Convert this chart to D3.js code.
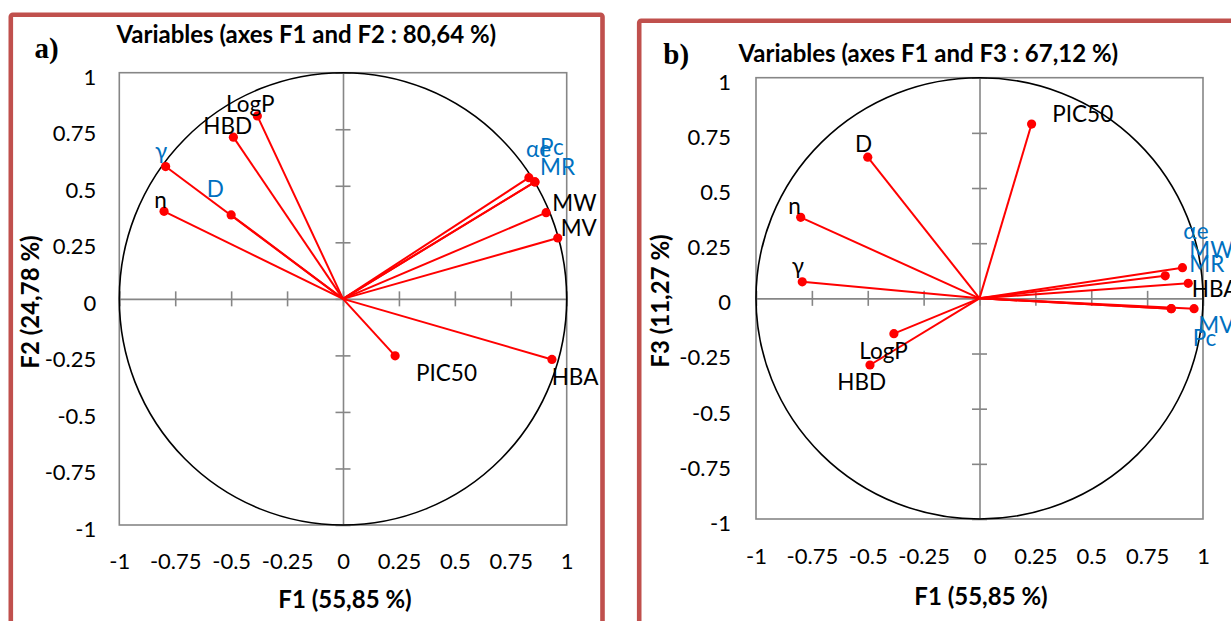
<!DOCTYPE html>
<html><head><meta charset="utf-8">
<script src="https://cdn.jsdelivr.net/npm/d3@7"></script>
<style>
body{margin:0;background:#fff;}
svg{display:block;font-family:Lato,'Open Sans',sans-serif;}
</style></head><body>
<svg id="chart" width="1231" height="621"></svg>
<script>
// ---- data ----
const variables = ["LogP","HBD","γ","n","D","αe","Pc","MR","MW","MV","PIC50","HBA"];
const f1 = [-0.383,-0.490,-0.793,-0.800,-0.500,0.831,0.858,0.858,0.908,0.960,0.233,0.934];
const f2 = [0.809,0.715,0.585,0.387,0.371,0.536,0.517,0.517,0.381,0.269,-0.252,-0.268];
const f3 = [-0.160,-0.302,0.075,0.367,0.640,0.102,-0.047,-0.047,0.139,-0.047,0.790,0.068];
const tickValues = [-1,-0.75,-0.5,-0.25,0,0.25,0.5,0.75,1];
const panelTitles = ["Variables (axes F1 and F2 : 80,64 %)","Variables (axes F1 and F3 : 67,12 %)"];
const panelLetters = ["a)","b)"];
const xTitles = ["F1 (55,85 %)","F1 (55,85 %)"];
const yTitles = ["F2 (24,78 %)","F3 (11,27 %)"];
const blueLabelsA = ["γ","D","αe","Pc","MR"];
const blueLabelsB = ["αe","MW","MR","MV","Pc"];

// ---- layout / style (not data) ----
const RED_FRAME = "#c0504d", GREY = "#868686", BLUE = "#0070c0";
const FS_TICK = 22, FS_LABEL = 22.5, FS_TITLE = 24;
const panels = [
  { ys: f2, blue: blueLabelsA,
    frame:[10.8,14.7,591.7,700], xr:[119.3,566.7], yr:[525,72.7],
    letter:[34.5,58.3], title:[306.3,43.3], xTitle:[345,608], yTitle:[39,302], xPad:28.4, yPad:23,
    off:{"LogP":[-31.3,-4.2],"HBD":[-30.1,-3.1],"γ":[-10.6,-7.2],"n":[-9.8,-3],"D":[-24.5,-18.2],
         "αe":[-2.9,-20.9],"Pc":[5.1,-26.9],"MR":[5.1,-6.9],"MW":[6.2,-2],"MV":[2.9,-2.3],
         "PIC50":[20.9,24.9],"HBA":[-0.3,25.5]} },
  { ys: f3, blue: blueLabelsB,
    frame:[639.2,20.8,700,700], xr:[756,1203], yr:[519,77.7],
    letter:[663.3,64], title:[928.3,61.7], xTitle:[981,605], yTitle:[669,301], xPad:29.4, yPad:25,
    off:{"LogP":[-34.6,25.7],"HBD":[-32.7,25],"γ":[-10.6,-7.8],"n":[-12.4,-3.4],"D":[-12.75,-5.4],
         "αe":[18.1,-36.5],"Pc":[21.4,37.3],"MR":[18,-37],"MW":[6.9,-9.4],"MV":[4.2,24.6],
         "PIC50":[20.7,-2.3],"HBA":[3.5,14]} }
];

const svg = d3.select("#chart");
svg.append("rect").attr("width",1231).attr("height",621).attr("fill","#fff");

panels.forEach((P, pi) => {
  const g = svg.append("g");
  const x = d3.scaleLinear().domain([-1,1]).range(P.xr);
  const y = d3.scaleLinear().domain([-1,1]).range(P.yr);

  // frame
  g.append("rect").attr("x",P.frame[0]).attr("y",P.frame[1]).attr("width",P.frame[2]).attr("height",P.frame[3])
    .attr("rx",2).attr("fill","none").attr("stroke",RED_FRAME).attr("stroke-width",4.6);

  // plot box
  g.append("rect").attr("x",x(-1)).attr("y",y(1)).attr("width",x(1)-x(-1)).attr("height",y(-1)-y(1))
    .attr("fill","none").attr("stroke",GREY).attr("stroke-width",1.6);

  // center axes with cross ticks
  const ax = g.append("g").attr("transform",`translate(0,${y(0)})`)
    .call(d3.axisBottom(x).tickValues(tickValues).tickSize(7).tickSizeOuter(0).tickFormat(""));
  ax.selectAll(".tick line").attr("y1",-7.5).attr("y2",7.5);
  const ay = g.append("g").attr("transform",`translate(${x(0)},0)`)
    .call(d3.axisLeft(y).tickValues(tickValues).tickSize(7).tickSizeOuter(0).tickFormat(""));
  ay.selectAll(".tick line").attr("x1",7.5).attr("x2",-7.5);
  [ax,ay].forEach(a => { a.selectAll("path,line").attr("stroke",GREY).attr("stroke-width",1.6); });

  // tick labels
  const xl = g.append("g").attr("transform",`translate(0,${y(-1)})`)
    .call(d3.axisBottom(x).tickValues(tickValues).tickSize(0).tickPadding(P.xPad).tickFormat(d=>String(d)));
  const yl = g.append("g").attr("transform",`translate(${x(-1)},0)`)
    .call(d3.axisLeft(y).tickValues(tickValues).tickSize(0).tickPadding(P.yPad).tickFormat(d=>String(d)));
  [xl,yl].forEach(a => {
    a.select(".domain").remove();
    a.attr("font-family","Lato,'Open Sans',sans-serif").attr("font-size",FS_TICK);
    a.selectAll("text").attr("fill","#000");
  });
  yl.selectAll("text").attr("dy","0.52em");

  // correlation circle
  g.append("ellipse").attr("cx",x(0)).attr("cy",y(0)).attr("rx",x(1)-x(0)).attr("ry",y(-1)-y(0))
    .attr("fill","none").attr("stroke","#000").attr("stroke-width",1.6);

  // vectors
  const idx = d3.range(variables.length);
  g.append("g").selectAll("line").data(idx).join("line")
    .attr("x1",x(0)).attr("y1",y(0))
    .attr("x2",i=>x(f1[i])).attr("y2",i=>y(P.ys[i]))
    .attr("stroke","#ff0000").attr("stroke-width",2);
  g.append("g").selectAll("circle").data(idx).join("circle")
    .attr("cx",i=>x(f1[i])).attr("cy",i=>y(P.ys[i])).attr("r",4.6).attr("fill","#ff0000");

  // point labels
  g.append("g").selectAll("text").data(idx).join("text")
    .attr("x",i=>x(f1[i]) + P.off[variables[i]][0])
    .attr("y",i=>y(P.ys[i]) + P.off[variables[i]][1])
    .attr("font-size",FS_LABEL)
    .attr("fill",i=>P.blue.includes(variables[i]) ? BLUE : "#000")
    .text(i=>variables[i]);

  // titles
  g.append("text").attr("x",P.title[0]).attr("y",P.title[1]).attr("text-anchor","middle")
    .attr("font-weight","bold").attr("font-size",FS_TITLE).text(panelTitles[pi]);
  g.append("text").attr("x",P.letter[0]).attr("y",P.letter[1])
    .attr("font-family","'Liberation Serif','Times New Roman',serif").attr("font-weight","bold")
    .attr("font-size",29).text(panelLetters[pi]);
  g.append("text").attr("x",P.xTitle[0]).attr("y",P.xTitle[1]).attr("text-anchor","middle")
    .attr("font-weight","bold").attr("font-size",FS_TITLE).text(xTitles[pi]);
  g.append("text").attr("transform",`translate(${P.yTitle[0]},${P.yTitle[1]}) rotate(-90)`)
    .attr("text-anchor","middle").attr("font-weight","bold").attr("font-size",FS_TITLE).text(yTitles[pi]);
});
</script>
</body></html>
